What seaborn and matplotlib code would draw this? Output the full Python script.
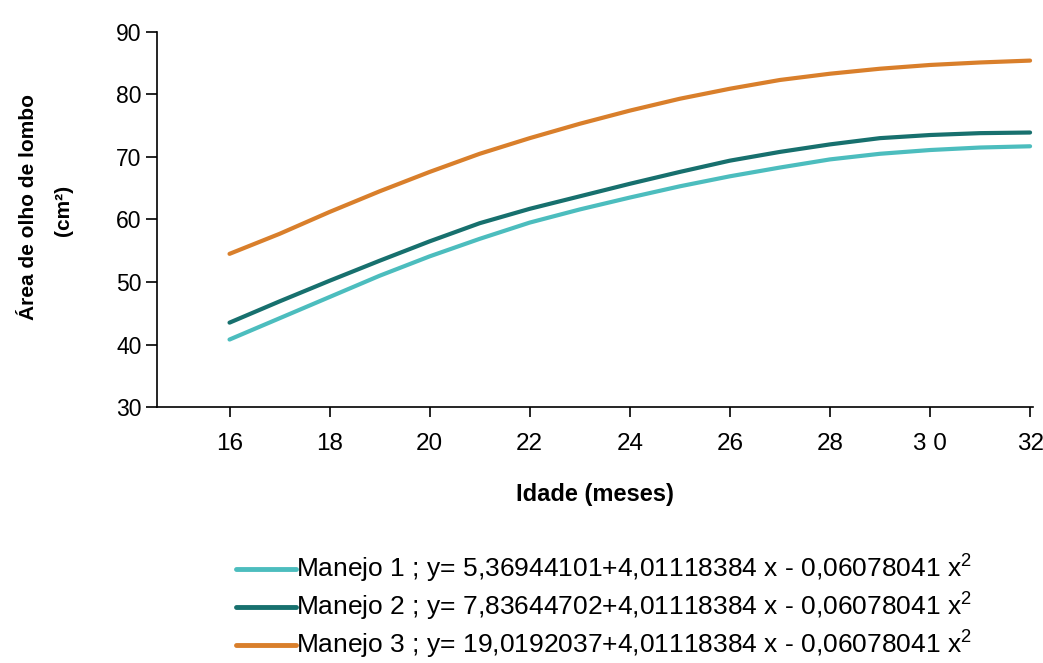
import matplotlib
matplotlib.use("Agg")
import matplotlib.pyplot as plt
import seaborn as sns
import pandas as pd

# Idade (meses) e área de olho de lombo (cm²) por manejo
idade = [16, 17, 18, 19, 20, 21, 22, 23, 24, 25, 26, 27, 28, 29, 30, 31, 32]
manejo_1 = [40.8, 44.2, 47.6, 51.0, 54.1, 56.9, 59.5, 61.6, 63.5, 65.3, 66.9, 68.3, 69.6, 70.5, 71.1, 71.5, 71.7]
manejo_2 = [43.5, 46.9, 50.2, 53.4, 56.5, 59.4, 61.7, 63.7, 65.7, 67.6, 69.4, 70.8, 72.0, 73.0, 73.5, 73.8, 73.9]
manejo_3 = [54.5, 57.7, 61.2, 64.5, 67.6, 70.5, 73.0, 75.3, 77.4, 79.3, 80.9, 82.3, 83.3, 84.1, 84.7, 85.1, 85.4]

serie_nomes = [
    r"Manejo 1 ; y= 5,36944101+4,01118384 x - 0,06078041 x$^{2}$",
    r"Manejo 2 ; y= 7,83644702+4,01118384 x - 0,06078041 x$^{2}$",
    r"Manejo 3 ; y= 19,0192037+4,01118384 x - 0,06078041 x$^{2}$",
]
cores = ["#4CBDBE", "#17706E", "#D97F2B"]

x_ticks = [16, 18, 20, 22, 24, 26, 28, 30, 32]
x_tick_labels = ["16", "18", "20", "22", "24", "26", "28", "3 0", "32"]
y_ticks = [30, 40, 50, 60, 70, 80, 90]

df = pd.concat([
    pd.DataFrame({"Idade": idade, "Area": vals, "Manejo": nome})
    for nome, vals in zip(serie_nomes, [manejo_1, manejo_2, manejo_3])
])

sns.set_theme(style="white")
plt.rcParams["font.family"] = ["Liberation Sans", "DejaVu Sans"]
plt.rcParams["mathtext.default"] = "regular"
plt.rcParams["text.color"] = "black"
plt.rcParams["xtick.color"] = "black"
plt.rcParams["ytick.color"] = "black"
plt.rcParams["axes.labelcolor"] = "black"

fig = plt.figure(figsize=(10.43, 6.63), dpi=100)
ax = fig.add_axes([0.1505, 0.386, 0.8395, 0.566])

sns.lineplot(data=df, x="Idade", y="Area", hue="Manejo", palette=cores,
             linewidth=3.0, ax=ax, legend=False)

ax.set_xlim(14.55, 32.05)
ax.set_ylim(30, 90)
ax.set_xticks(x_ticks)
ax.set_xticklabels(x_tick_labels, fontsize=17.5)
ax.set_yticks(y_ticks)
ax.set_yticklabels([str(v) for v in y_ticks], fontsize=16.5)

for side in ["top", "right"]:
    ax.spines[side].set_visible(False)
for side in ["left", "bottom"]:
    ax.spines[side].set_color("black")
    ax.spines[side].set_linewidth(1.2)

ax.tick_params(axis="y", direction="out", length=8, width=1.2, pad=3, left=True)
ax.tick_params(axis="x", direction="out", length=7, width=1.2, pad=12, bottom=True)

ax.set_xlabel("Idade (meses)", fontweight="bold", fontsize=17, labelpad=20)
ax.set_ylabel("")
fig.text(0.027, 0.688, "Área de olho de lombo", rotation=90, ha="center", va="center",
         fontweight="bold", fontsize=15)
fig.text(0.061, 0.683, "(cm²)", rotation=90, ha="center", va="center",
         fontweight="bold", fontsize=15)

handles = [plt.Line2D([], [], color=c, linewidth=3.5) for c in cores]
leg = fig.legend(handles, serie_nomes, loc="upper left", bbox_to_anchor=(0.226, 0.166),
                 frameon=False, handlelength=2.3, handletextpad=0.0, labelspacing=0.22,
                 borderpad=0, borderaxespad=0, prop={"size": 19})

fig.savefig("out.png", dpi=100, facecolor="white")
